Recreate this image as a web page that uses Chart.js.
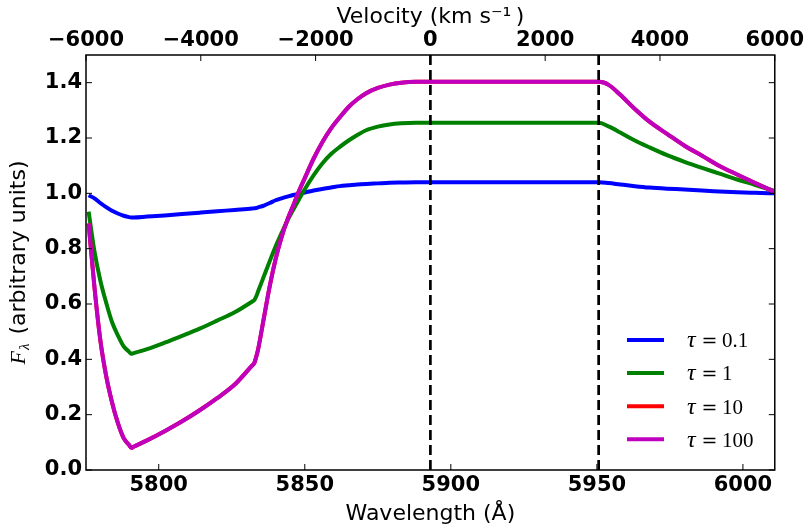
<!DOCTYPE html>
<html>
<head>
<meta charset="utf-8">
<script src="https://cdn.jsdelivr.net/npm/chart.js@4.4.0/dist/chart.umd.min.js"></script>
<style>
  html, body { margin: 0; padding: 0; background: #fff; }
  canvas { display: block; }
</style>
</head>
<body>
<canvas id="chart" width="806" height="531"></canvas>
<script>
// wavelength grid (Angstrom) shared by all curves
const wavelength = [5776, 5778, 5780, 5782, 5784, 5786, 5788, 5789.8, 5790.6, 5791.4, 5796, 5802, 5808, 5814, 5820, 5826,
  5832.0, 5832.7, 5833.4, 5834, 5836, 5838, 5840, 5842, 5844, 5846, 5848, 5850, 5853, 5856, 5859, 5862, 5865, 5868, 5871,
  5875, 5879, 5883, 5888, 5895, 5910, 5930, 5950.8, 5954, 5958, 5963, 5968, 5974, 5980, 5986, 5992, 5998, 6004, 6010.9];

const fluxTau01 = [0.993, 0.982, 0.965, 0.950, 0.937, 0.927, 0.919, 0.914, 0.913, 0.913, 0.916, 0.920, 0.925, 0.930, 0.935, 0.940,
  0.945, 0.946, 0.947, 0.949, 0.956, 0.965, 0.975, 0.982, 0.988, 0.994, 0.999, 1.003, 1.010, 1.016, 1.021, 1.026, 1.029, 1.032, 1.034,
  1.036, 1.038, 1.039, 1.040, 1.040, 1.040, 1.040, 1.040, 1.037, 1.032, 1.026, 1.021, 1.017, 1.014, 1.010, 1.007, 1.004, 1.002, 1.000];

const fluxTau1 = [0.934, 0.790, 0.685, 0.605, 0.535, 0.487, 0.447, 0.428, 0.420, 0.4225, 0.437, 0.460, 0.485, 0.511, 0.540, 0.570,
  0.609, 0.614, 0.628, 0.645, 0.700, 0.755, 0.808, 0.855, 0.900, 0.940, 0.978, 1.015, 1.065, 1.108, 1.142, 1.168, 1.191, 1.211, 1.228,
  1.241, 1.249, 1.253, 1.255, 1.255, 1.255, 1.255, 1.255, 1.242, 1.220, 1.191, 1.166, 1.138, 1.114, 1.092, 1.071, 1.050, 1.031, 1.008];

// tau=10 sits exactly under tau=100 in the figure
const fluxTau10 = [0.891, 0.660, 0.470, 0.340, 0.245, 0.170, 0.115, 0.091, 0.080, 0.084, 0.107, 0.140, 0.176, 0.216, 0.260, 0.309,
  0.378, 0.386, 0.410, 0.435, 0.550, 0.665, 0.762, 0.840, 0.903, 0.955, 1.008, 1.055, 1.125, 1.185, 1.235, 1.275, 1.312, 1.340, 1.362,
  1.381, 1.393, 1.400, 1.403, 1.403, 1.403, 1.403, 1.403, 1.392, 1.356, 1.305, 1.259, 1.215, 1.172, 1.136, 1.099, 1.068, 1.038, 1.005];

const fluxTau100 = [0.891, 0.660, 0.470, 0.340, 0.245, 0.170, 0.115, 0.091, 0.080, 0.084, 0.107, 0.140, 0.176, 0.216, 0.260, 0.309,
  0.378, 0.386, 0.410, 0.435, 0.550, 0.665, 0.762, 0.840, 0.903, 0.955, 1.008, 1.055, 1.125, 1.185, 1.235, 1.275, 1.312, 1.340, 1.362,
  1.381, 1.393, 1.400, 1.403, 1.403, 1.403, 1.403, 1.403, 1.392, 1.356, 1.305, 1.259, 1.215, 1.172, 1.136, 1.099, 1.068, 1.038, 1.005];

const tauLabels = ["0.1", "1", "10", "100"];
const tauColors = ["#0000ff", "#008000", "#ff0000", "#bf00bf"];
const markerLines = [5893, 5950.6];   // dashed verticals (Angstrom)

const waveRange = [5775.1, 6010.9];
const velRange = [-6000, 6000];
const fluxRange = [0, 1.5];

const pts = ys => ys.map((y, i) => ({ x: wavelength[i], y }));
const series = [fluxTau01, fluxTau1, fluxTau10, fluxTau100];

const datasets = series.map((ys, i) => ({
  label: "τ=" + tauLabels[i],
  data: pts(ys),
  borderColor: tauColors[i],
  borderWidth: 4,
  pointRadius: 0,
  cubicInterpolationMode: "monotone",
  order: 3 - i
}));
markerLines.forEach(w => datasets.push({
  data: [{ x: w, y: fluxRange[0] }, { x: w, y: fluxRange[1] }],
  borderColor: "#000",
  borderWidth: 2.7,
  borderDash: [10, 5],
  pointRadius: 0,
  order: -1
}));

const tickFont = { family: "DejaVu Sans", size: 21, weight: "bold" };
const titleFont = { family: "DejaVu Sans", size: 22 };

const decor = {
  id: "decor",
  afterDraw(chart) {
    const { ctx, chartArea: a, scales } = chart;
    ctx.save();
    ctx.strokeStyle = "#000";
    ctx.lineWidth = 1;
    const seg = (x1, y1, x2, y2) => { ctx.beginPath(); ctx.moveTo(x1, y1); ctx.lineTo(x2, y2); ctx.stroke(); };
    scales.x.ticks.forEach(t => { const p = scales.x.getPixelForValue(t.value); seg(p, a.bottom, p, a.bottom - 6); });
    scales.xTop.ticks.forEach(t => { const p = scales.xTop.getPixelForValue(t.value); seg(p, a.top, p, a.top + 6); });
    scales.y.ticks.forEach(t => {
      const p = scales.y.getPixelForValue(t.value);
      seg(a.left, p, a.left + 6, p);
      seg(a.right, p, a.right - 6, p);
    });
    ctx.lineWidth = 1.5;
    ctx.strokeRect(a.left, a.top, a.right - a.left, a.bottom - a.top);

    // legend, lower right, no frame
    tauLabels.forEach((t, i) => {
      const y = 340 + i * 33.1;
      ctx.strokeStyle = tauColors[i];
      ctx.lineWidth = 4;
      seg(627, y, 664, y);
      ctx.fillStyle = "#000";
      ctx.textBaseline = "alphabetic";
      ctx.textAlign = "left";
      ctx.font = 'italic 24px "Liberation Serif"';
      ctx.fillText("τ", 687, y + 7.3);
      ctx.font = '19px "DejaVu Serif"';
      ctx.textAlign = "center";
      ctx.fillText("=", 709.5, y + 7.3);
      ctx.font = '21px "Liberation Serif"';
      ctx.textAlign = "left";
      ctx.fillText(t, 722, y + 7.3);
    });

    // y axis title: F_lambda (arbitrary units)
    ctx.translate(25, (a.top + a.bottom) / 2);
    ctx.rotate(-Math.PI / 2);
    ctx.fillStyle = "#000";
    ctx.textAlign = "left";
    ctx.textBaseline = "alphabetic";
    const fF = 'italic 22px "Liberation Serif"', fL = 'italic 15px "Liberation Serif"', fT = '22px "DejaVu Sans"';
    const rest = " (arbitrary units)";
    ctx.font = fF; const wF = ctx.measureText("F").width + 1;
    ctx.font = fL; const wL = ctx.measureText("λ").width + 2;
    ctx.font = fT; const wT = ctx.measureText(rest).width;
    let x = -(wF + wL + wT) / 2;
    ctx.font = fF; ctx.fillText("F", x, 0); x += wF;
    ctx.font = fL; ctx.fillText("λ", x, 4); x += wL;
    ctx.font = fT; ctx.fillText(rest, x, 0);
    ctx.restore();
  }
};

new Chart(document.getElementById("chart"), {
  type: "line",
  data: { datasets },
  options: {
    responsive: false,
    animation: false,
    devicePixelRatio: 1,
    layout: { padding: { left: 0, right: 29, top: 0, bottom: 0 } },
    plugins: { legend: { display: false }, tooltip: { enabled: false } },
    scales: {
      x: {
        type: "linear",
        position: "bottom",
        min: waveRange[0], max: waveRange[1],
        grid: { display: false, drawTicks: false },
        border: { display: false },
        ticks: { stepSize: 50, includeBounds: false, font: tickFont, color: "#000", padding: 3, maxRotation: 0,
          callback: v => String(v) },
        title: { display: true, text: "Wavelength (Å)", font: titleFont, color: "#000", padding: { top: 0, bottom: 4 } },
        afterFit: s => { s.height = 61; }
      },
      xTop: {
        type: "linear",
        position: "top",
        min: velRange[0], max: velRange[1],
        grid: { display: false, drawTicks: false },
        border: { display: false },
        ticks: { stepSize: 2000, includeBounds: false, font: tickFont, color: "#000", padding: 2, maxRotation: 0,
          callback: v => String(v).replace("-", "\u2212") },
        title: { display: true, text: "Velocity (km s\u207B\u00B9\u2009)", font: titleFont, color: "#000", padding: { top: 4, bottom: 0 } },
        afterFit: s => { s.height = 55; }
      },
      y: {
        min: fluxRange[0], max: fluxRange[1],
        grid: { display: false, drawTicks: false },
        border: { display: false },
        ticks: { stepSize: 0.2, includeBounds: false, font: tickFont, color: "#000", padding: 4,
          callback: v => v.toFixed(1) },
        afterFit: s => { s.width = 86; }
      }
    }
  },
  plugins: [decor]
});
</script>
</body>
</html>
